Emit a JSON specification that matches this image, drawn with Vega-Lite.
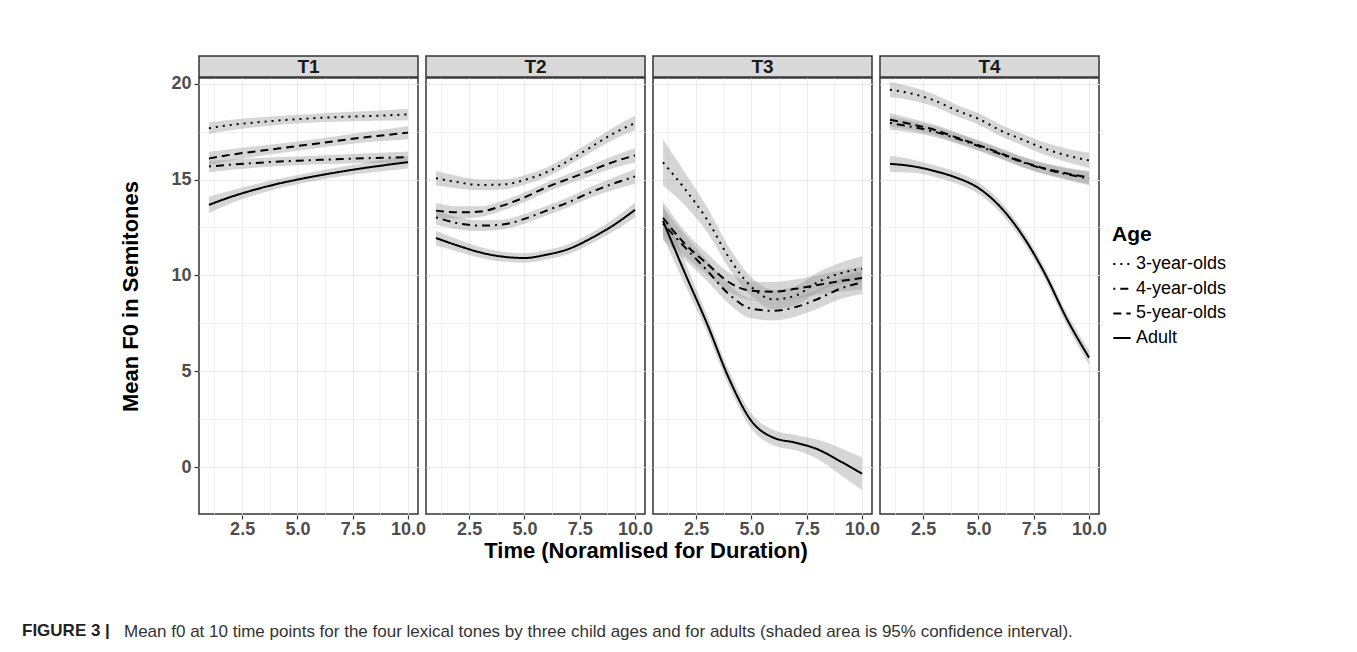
{
  "$schema": "https://vega.github.io/schema/vega-lite/v6.json",
  "background": "white",
  "padding": {"left": 22, "top": 55, "right": 5, "bottom": 5},
  "config": {
    "font": "Liberation Sans",
    "view": {"stroke": "#333333", "strokeWidth": 1.5},
    "axis": {
      "domain": false,
      "tickColor": "#333333",
      "tickSize": 4,
      "tickWidth": 1.2,
      "labelFont": "Liberation Sans",
      "labelFontSize": 18,
      "labelFontWeight": "bold",
      "labelColor": "#4D4D4D",
      "labelPadding": 3,
      "titleFont": "Liberation Sans",
      "titleFontSize": 22,
      "titleFontWeight": "bold",
      "titleColor": "#000000",
      "gridColor": "#EBEBEB"
    }
  },
  "title": {
    "text": "FIGURE 3 |",
    "orient": "bottom",
    "anchor": "start",
    "frame": "group",
    "fontSize": 17,
    "fontWeight": "bold",
    "color": "#222222",
    "dx": -177,
    "dy": -17,
    "offset": 0
  },
  "datasets": {
    "strips": [{"tone": "T1"}, {"tone": "T2"}, {"tone": "T3"}, {"tone": "T4"}],
    "curves": [
      {"tone":"T1","age":"3-year-olds","t":1,"y":17.68,"lo":17.38,"hi":17.98},
      {"tone":"T1","age":"3-year-olds","t":2,"y":17.85,"lo":17.58,"hi":18.12},
      {"tone":"T1","age":"3-year-olds","t":3,"y":17.97,"lo":17.72,"hi":18.22},
      {"tone":"T1","age":"3-year-olds","t":4,"y":18.07,"lo":17.83,"hi":18.31},
      {"tone":"T1","age":"3-year-olds","t":5,"y":18.15,"lo":17.92,"hi":18.38},
      {"tone":"T1","age":"3-year-olds","t":6,"y":18.22,"lo":17.99,"hi":18.45},
      {"tone":"T1","age":"3-year-olds","t":7,"y":18.27,"lo":18.03,"hi":18.51},
      {"tone":"T1","age":"3-year-olds","t":8,"y":18.31,"lo":18.06,"hi":18.56},
      {"tone":"T1","age":"3-year-olds","t":9,"y":18.35,"lo":18.08,"hi":18.62},
      {"tone":"T1","age":"3-year-olds","t":10,"y":18.4,"lo":18.1,"hi":18.7},
      {"tone":"T1","age":"4-year-olds","t":1,"y":15.68,"lo":15.38,"hi":15.98},
      {"tone":"T1","age":"4-year-olds","t":2,"y":15.78,"lo":15.51,"hi":16.05},
      {"tone":"T1","age":"4-year-olds","t":3,"y":15.86,"lo":15.61,"hi":16.11},
      {"tone":"T1","age":"4-year-olds","t":4,"y":15.93,"lo":15.69,"hi":16.17},
      {"tone":"T1","age":"4-year-olds","t":5,"y":15.98,"lo":15.75,"hi":16.21},
      {"tone":"T1","age":"4-year-olds","t":6,"y":16.03,"lo":15.8,"hi":16.26},
      {"tone":"T1","age":"4-year-olds","t":7,"y":16.07,"lo":15.83,"hi":16.31},
      {"tone":"T1","age":"4-year-olds","t":8,"y":16.11,"lo":15.86,"hi":16.36},
      {"tone":"T1","age":"4-year-olds","t":9,"y":16.14,"lo":15.87,"hi":16.41},
      {"tone":"T1","age":"4-year-olds","t":10,"y":16.17,"lo":15.87,"hi":16.47},
      {"tone":"T1","age":"5-year-olds","t":1,"y":16.1,"lo":15.75,"hi":16.45},
      {"tone":"T1","age":"5-year-olds","t":2,"y":16.3,"lo":16.0,"hi":16.6},
      {"tone":"T1","age":"5-year-olds","t":3,"y":16.45,"lo":16.18,"hi":16.72},
      {"tone":"T1","age":"5-year-olds","t":4,"y":16.6,"lo":16.35,"hi":16.85},
      {"tone":"T1","age":"5-year-olds","t":5,"y":16.75,"lo":16.51,"hi":16.99},
      {"tone":"T1","age":"5-year-olds","t":6,"y":16.9,"lo":16.66,"hi":17.14},
      {"tone":"T1","age":"5-year-olds","t":7,"y":17.05,"lo":16.8,"hi":17.3},
      {"tone":"T1","age":"5-year-olds","t":8,"y":17.2,"lo":16.93,"hi":17.47},
      {"tone":"T1","age":"5-year-olds","t":9,"y":17.32,"lo":17.02,"hi":17.62},
      {"tone":"T1","age":"5-year-olds","t":10,"y":17.45,"lo":17.1,"hi":17.8},
      {"tone":"T1","age":"Adult","t":1,"y":13.68,"lo":13.26,"hi":14.1},
      {"tone":"T1","age":"Adult","t":2,"y":14.1,"lo":13.77,"hi":14.43},
      {"tone":"T1","age":"Adult","t":3,"y":14.45,"lo":14.17,"hi":14.73},
      {"tone":"T1","age":"Adult","t":4,"y":14.75,"lo":14.5,"hi":15.0},
      {"tone":"T1","age":"Adult","t":5,"y":15.0,"lo":14.76,"hi":15.24},
      {"tone":"T1","age":"Adult","t":6,"y":15.22,"lo":14.98,"hi":15.46},
      {"tone":"T1","age":"Adult","t":7,"y":15.42,"lo":15.17,"hi":15.67},
      {"tone":"T1","age":"Adult","t":8,"y":15.6,"lo":15.33,"hi":15.87},
      {"tone":"T1","age":"Adult","t":9,"y":15.76,"lo":15.46,"hi":16.06},
      {"tone":"T1","age":"Adult","t":10,"y":15.91,"lo":15.58,"hi":16.24},

      {"tone":"T2","age":"3-year-olds","t":1,"y":15.07,"lo":14.69,"hi":15.45},
      {"tone":"T2","age":"3-year-olds","t":2,"y":14.86,"lo":14.54,"hi":15.18},
      {"tone":"T2","age":"3-year-olds","t":3,"y":14.72,"lo":14.44,"hi":15.0},
      {"tone":"T2","age":"3-year-olds","t":4,"y":14.74,"lo":14.48,"hi":15.0},
      {"tone":"T2","age":"3-year-olds","t":5,"y":14.98,"lo":14.73,"hi":15.23},
      {"tone":"T2","age":"3-year-olds","t":6,"y":15.38,"lo":15.13,"hi":15.63},
      {"tone":"T2","age":"3-year-olds","t":7,"y":15.99,"lo":15.73,"hi":16.25},
      {"tone":"T2","age":"3-year-olds","t":8,"y":16.69,"lo":16.41,"hi":16.97},
      {"tone":"T2","age":"3-year-olds","t":9,"y":17.39,"lo":17.07,"hi":17.71},
      {"tone":"T2","age":"3-year-olds","t":10,"y":17.95,"lo":17.57,"hi":18.33},
      {"tone":"T2","age":"4-year-olds","t":1,"y":13.03,"lo":12.65,"hi":13.41},
      {"tone":"T2","age":"4-year-olds","t":2,"y":12.72,"lo":12.4,"hi":13.04},
      {"tone":"T2","age":"4-year-olds","t":3,"y":12.6,"lo":12.32,"hi":12.88},
      {"tone":"T2","age":"4-year-olds","t":4,"y":12.65,"lo":12.39,"hi":12.91},
      {"tone":"T2","age":"4-year-olds","t":5,"y":12.95,"lo":12.7,"hi":13.2},
      {"tone":"T2","age":"4-year-olds","t":6,"y":13.38,"lo":13.13,"hi":13.63},
      {"tone":"T2","age":"4-year-olds","t":7,"y":13.82,"lo":13.56,"hi":14.08},
      {"tone":"T2","age":"4-year-olds","t":8,"y":14.34,"lo":14.06,"hi":14.62},
      {"tone":"T2","age":"4-year-olds","t":9,"y":14.78,"lo":14.46,"hi":15.1},
      {"tone":"T2","age":"4-year-olds","t":10,"y":15.16,"lo":14.78,"hi":15.54},
      {"tone":"T2","age":"5-year-olds","t":1,"y":13.38,"lo":13.0,"hi":13.76},
      {"tone":"T2","age":"5-year-olds","t":2,"y":13.29,"lo":12.97,"hi":13.61},
      {"tone":"T2","age":"5-year-olds","t":3,"y":13.33,"lo":13.05,"hi":13.61},
      {"tone":"T2","age":"5-year-olds","t":4,"y":13.64,"lo":13.38,"hi":13.9},
      {"tone":"T2","age":"5-year-olds","t":5,"y":14.07,"lo":13.82,"hi":14.32},
      {"tone":"T2","age":"5-year-olds","t":6,"y":14.6,"lo":14.35,"hi":14.85},
      {"tone":"T2","age":"5-year-olds","t":7,"y":15.04,"lo":14.78,"hi":15.3},
      {"tone":"T2","age":"5-year-olds","t":8,"y":15.47,"lo":15.19,"hi":15.75},
      {"tone":"T2","age":"5-year-olds","t":9,"y":15.91,"lo":15.59,"hi":16.23},
      {"tone":"T2","age":"5-year-olds","t":10,"y":16.26,"lo":15.88,"hi":16.64},
      {"tone":"T2","age":"Adult","t":1,"y":11.95,"lo":11.57,"hi":12.33},
      {"tone":"T2","age":"Adult","t":2,"y":11.55,"lo":11.23,"hi":11.87},
      {"tone":"T2","age":"Adult","t":3,"y":11.2,"lo":10.92,"hi":11.48},
      {"tone":"T2","age":"Adult","t":4,"y":10.98,"lo":10.72,"hi":11.24},
      {"tone":"T2","age":"Adult","t":5,"y":10.91,"lo":10.66,"hi":11.16},
      {"tone":"T2","age":"Adult","t":6,"y":11.08,"lo":10.83,"hi":11.33},
      {"tone":"T2","age":"Adult","t":7,"y":11.38,"lo":11.12,"hi":11.64},
      {"tone":"T2","age":"Adult","t":8,"y":11.93,"lo":11.65,"hi":12.21},
      {"tone":"T2","age":"Adult","t":9,"y":12.6,"lo":12.28,"hi":12.92},
      {"tone":"T2","age":"Adult","t":10,"y":13.42,"lo":13.04,"hi":13.8},

      {"tone":"T3","age":"3-year-olds","t":1,"y":15.9,"lo":14.7,"hi":17.1},
      {"tone":"T3","age":"3-year-olds","t":2,"y":14.5,"lo":13.65,"hi":15.35},
      {"tone":"T3","age":"3-year-olds","t":3,"y":12.9,"lo":12.25,"hi":13.55},
      {"tone":"T3","age":"3-year-olds","t":4,"y":10.9,"lo":10.35,"hi":11.45},
      {"tone":"T3","age":"3-year-olds","t":5,"y":9.4,"lo":8.9,"hi":9.9},
      {"tone":"T3","age":"3-year-olds","t":6,"y":8.75,"lo":8.25,"hi":9.25},
      {"tone":"T3","age":"3-year-olds","t":7,"y":8.95,"lo":8.45,"hi":9.45},
      {"tone":"T3","age":"3-year-olds","t":8,"y":9.65,"lo":9.15,"hi":10.15},
      {"tone":"T3","age":"3-year-olds","t":9,"y":10.1,"lo":9.55,"hi":10.65},
      {"tone":"T3","age":"3-year-olds","t":10,"y":10.35,"lo":9.7,"hi":11.0},
      {"tone":"T3","age":"4-year-olds","t":1,"y":12.7,"lo":11.85,"hi":13.55},
      {"tone":"T3","age":"4-year-olds","t":2,"y":11.46,"lo":10.81,"hi":12.11},
      {"tone":"T3","age":"4-year-olds","t":3,"y":10.25,"lo":9.7,"hi":10.8},
      {"tone":"T3","age":"4-year-olds","t":4,"y":9.0,"lo":8.5,"hi":9.5},
      {"tone":"T3","age":"4-year-olds","t":5,"y":8.26,"lo":7.76,"hi":8.76},
      {"tone":"T3","age":"4-year-olds","t":6,"y":8.15,"lo":7.65,"hi":8.65},
      {"tone":"T3","age":"4-year-olds","t":7,"y":8.35,"lo":7.85,"hi":8.85},
      {"tone":"T3","age":"4-year-olds","t":8,"y":8.77,"lo":8.27,"hi":9.27},
      {"tone":"T3","age":"4-year-olds","t":9,"y":9.3,"lo":8.75,"hi":9.85},
      {"tone":"T3","age":"4-year-olds","t":10,"y":9.63,"lo":9.03,"hi":10.23},
      {"tone":"T3","age":"5-year-olds","t":1,"y":13.0,"lo":12.15,"hi":13.85},
      {"tone":"T3","age":"5-year-olds","t":2,"y":11.64,"lo":10.99,"hi":12.29},
      {"tone":"T3","age":"5-year-olds","t":3,"y":10.6,"lo":10.05,"hi":11.15},
      {"tone":"T3","age":"5-year-olds","t":4,"y":9.63,"lo":9.13,"hi":10.13},
      {"tone":"T3","age":"5-year-olds","t":5,"y":9.2,"lo":8.7,"hi":9.7},
      {"tone":"T3","age":"5-year-olds","t":6,"y":9.15,"lo":8.65,"hi":9.65},
      {"tone":"T3","age":"5-year-olds","t":7,"y":9.3,"lo":8.8,"hi":9.8},
      {"tone":"T3","age":"5-year-olds","t":8,"y":9.5,"lo":9.0,"hi":10.0},
      {"tone":"T3","age":"5-year-olds","t":9,"y":9.7,"lo":9.15,"hi":10.25},
      {"tone":"T3","age":"5-year-olds","t":10,"y":9.86,"lo":9.26,"hi":10.46},
      {"tone":"T3","age":"Adult","t":1,"y":12.85,"lo":12.0,"hi":13.7},
      {"tone":"T3","age":"Adult","t":2,"y":10.1,"lo":9.5,"hi":10.7},
      {"tone":"T3","age":"Adult","t":3,"y":7.46,"lo":7.01,"hi":7.91},
      {"tone":"T3","age":"Adult","t":4,"y":4.58,"lo":4.18,"hi":4.98},
      {"tone":"T3","age":"Adult","t":5,"y":2.4,"lo":2.0,"hi":2.8},
      {"tone":"T3","age":"Adult","t":6,"y":1.53,"lo":1.13,"hi":1.93},
      {"tone":"T3","age":"Adult","t":7,"y":1.27,"lo":0.87,"hi":1.67},
      {"tone":"T3","age":"Adult","t":8,"y":0.92,"lo":0.42,"hi":1.42},
      {"tone":"T3","age":"Adult","t":9,"y":0.31,"lo":-0.39,"hi":1.01},
      {"tone":"T3","age":"Adult","t":10,"y":-0.35,"lo":-1.2,"hi":0.5},

      {"tone":"T4","age":"3-year-olds","t":1,"y":19.69,"lo":19.29,"hi":20.09},
      {"tone":"T4","age":"3-year-olds","t":2,"y":19.48,"lo":19.13,"hi":19.83},
      {"tone":"T4","age":"3-year-olds","t":3,"y":19.13,"lo":18.81,"hi":19.45},
      {"tone":"T4","age":"3-year-olds","t":4,"y":18.61,"lo":18.31,"hi":18.91},
      {"tone":"T4","age":"3-year-olds","t":5,"y":18.17,"lo":17.87,"hi":18.47},
      {"tone":"T4","age":"3-year-olds","t":6,"y":17.56,"lo":17.26,"hi":17.86},
      {"tone":"T4","age":"3-year-olds","t":7,"y":17.08,"lo":16.78,"hi":17.38},
      {"tone":"T4","age":"3-year-olds","t":8,"y":16.61,"lo":16.29,"hi":16.93},
      {"tone":"T4","age":"3-year-olds","t":9,"y":16.26,"lo":15.91,"hi":16.61},
      {"tone":"T4","age":"3-year-olds","t":10,"y":16.0,"lo":15.6,"hi":16.4},
      {"tone":"T4","age":"4-year-olds","t":1,"y":17.95,"lo":17.6,"hi":18.3},
      {"tone":"T4","age":"4-year-olds","t":2,"y":17.75,"lo":17.45,"hi":18.05},
      {"tone":"T4","age":"4-year-olds","t":3,"y":17.5,"lo":17.22,"hi":17.78},
      {"tone":"T4","age":"4-year-olds","t":4,"y":17.15,"lo":16.88,"hi":17.42},
      {"tone":"T4","age":"4-year-olds","t":5,"y":16.75,"lo":16.49,"hi":17.01},
      {"tone":"T4","age":"4-year-olds","t":6,"y":16.33,"lo":16.07,"hi":16.59},
      {"tone":"T4","age":"4-year-olds","t":7,"y":15.9,"lo":15.63,"hi":16.17},
      {"tone":"T4","age":"4-year-olds","t":8,"y":15.55,"lo":15.27,"hi":15.83},
      {"tone":"T4","age":"4-year-olds","t":9,"y":15.28,"lo":14.98,"hi":15.58},
      {"tone":"T4","age":"4-year-olds","t":10,"y":15.05,"lo":14.7,"hi":15.4},
      {"tone":"T4","age":"5-year-olds","t":1,"y":18.12,"lo":17.77,"hi":18.47},
      {"tone":"T4","age":"5-year-olds","t":2,"y":17.88,"lo":17.58,"hi":18.18},
      {"tone":"T4","age":"5-year-olds","t":3,"y":17.6,"lo":17.32,"hi":17.88},
      {"tone":"T4","age":"5-year-olds","t":4,"y":17.2,"lo":16.93,"hi":17.47},
      {"tone":"T4","age":"5-year-olds","t":5,"y":16.8,"lo":16.54,"hi":17.06},
      {"tone":"T4","age":"5-year-olds","t":6,"y":16.37,"lo":16.11,"hi":16.63},
      {"tone":"T4","age":"5-year-olds","t":7,"y":15.93,"lo":15.66,"hi":16.2},
      {"tone":"T4","age":"5-year-olds","t":8,"y":15.58,"lo":15.3,"hi":15.86},
      {"tone":"T4","age":"5-year-olds","t":9,"y":15.32,"lo":15.02,"hi":15.62},
      {"tone":"T4","age":"5-year-olds","t":10,"y":15.1,"lo":14.75,"hi":15.45},
      {"tone":"T4","age":"Adult","t":1,"y":15.82,"lo":15.4,"hi":16.24},
      {"tone":"T4","age":"Adult","t":2,"y":15.7,"lo":15.35,"hi":16.05},
      {"tone":"T4","age":"Adult","t":3,"y":15.45,"lo":15.15,"hi":15.75},
      {"tone":"T4","age":"Adult","t":4,"y":15.1,"lo":14.8,"hi":15.4},
      {"tone":"T4","age":"Adult","t":5,"y":14.56,"lo":14.26,"hi":14.86},
      {"tone":"T4","age":"Adult","t":6,"y":13.56,"lo":13.26,"hi":13.86},
      {"tone":"T4","age":"Adult","t":7,"y":12.07,"lo":11.77,"hi":12.37},
      {"tone":"T4","age":"Adult","t":8,"y":10.1,"lo":9.8,"hi":10.4},
      {"tone":"T4","age":"Adult","t":9,"y":7.72,"lo":7.4,"hi":8.04},
      {"tone":"T4","age":"Adult","t":10,"y":5.71,"lo":5.33,"hi":6.09}
    ]
  },
  "vconcat": [
    {
      "title": {
        "text": "Mean f0 at 10 time points for the four lexical tones by three child ages and for adults (shaded area is 95% confidence interval).",
        "orient": "bottom",
        "anchor": "start",
        "frame": "group",
        "fontSize": 17,
        "fontWeight": "normal",
        "color": "#333333",
        "dx": -75,
        "offset": 62
      },
      "spacing": -8,
      "vconcat": [
        {
          "data": {"name": "strips"},
          "facet": {"column": {"field": "tone", "type": "nominal", "title": null, "header": {"labels": false, "title": null}}},
          "spacing": 6,
          "spec": {
            "width": 219,
            "height": 21,
            "view": {"fill": "#D9D9D9", "stroke": "#333333", "strokeWidth": 1.5},
            "mark": {"type": "text", "font": "Liberation Sans", "fontSize": 19, "fontWeight": "bold", "color": "#1A1A1A", "baseline": "middle", "align": "center"},
            "encoding": {
              "text": {"field": "tone", "type": "nominal"},
              "y": {"datum": "strip", "type": "nominal", "title": "M",
                "scale": {"paddingInner": 0, "paddingOuter": 0},
                "axis": {"labelExpr": "'20'", "labelOpacity": 0, "tickOpacity": 0, "grid": false, "domain": false, "titleOpacity": 0, "titlePadding": 28}}
            }
          }
        },
        {
          "data": {"name": "curves"},
          "title": {
            "text": "Time (Noramlised for Duration)",
            "orient": "bottom",
            "anchor": "middle",
            "frame": "group",
            "font": "Liberation Sans",
            "fontSize": 22,
            "fontWeight": "bold",
            "color": "#000000",
            "dx": 447,
            "offset": 3
          },
          "facet": {"column": {"field": "tone", "type": "nominal", "title": null, "header": {"labels": false, "title": null}}},
          "spacing": 6,
          "spec": {
            "width": 219,
            "height": 436,
            "resolve": {"axis": {"x": "independent"}},
            "layer": [
              {
                "mark": {"type": "area", "interpolate": "monotone", "fill": "#999999", "opacity": 0.4},
                "encoding": {
                  "x": {"field": "t", "type": "quantitative", "scale": {"domain": [0.55, 10.45], "nice": false, "zero": false}, "title": null,
                    "axis": {"orient": "bottom", "values": [1.25, 3.75, 6.25, 8.75], "labels": false, "ticks": false, "domain": false, "grid": true, "gridWidth": 0.7}},
                  "y": {"field": "lo", "type": "quantitative", "scale": {"domain": [-2.45, 20.3], "nice": false, "zero": false}, "title": "Mean F0 in Semitones",
                    "axis": {"values": [0, 2.5, 5, 7.5, 10, 12.5, 15, 17.5, 20],
                      "labelExpr": "datum.value % 5 === 0 ? format(datum.value, 'd') : ''",
                      "tickOpacity": {"condition": {"test": "datum.value % 5 !== 0", "value": 0}, "value": 1},
                      "gridWidth": {"condition": {"test": "datum.value % 5 !== 0", "value": 0.7}, "value": 1.1},
                      "titlePadding": 28}},
                  "y2": {"field": "hi"},
                  "detail": {"field": "age", "type": "nominal"}
                }
              },
              {
                "mark": {"type": "line", "interpolate": "monotone", "color": "black", "strokeWidth": 2},
                "encoding": {
                  "x": {"field": "t", "type": "quantitative", "scale": {"domain": [0.55, 10.45], "nice": false, "zero": false}, "title": null,
                    "axis": {"orient": "bottom", "values": [2.5, 5, 7.5, 10], "format": ".1f", "grid": true, "gridWidth": 1.1, "labelPadding": 1}},
                  "y": {"field": "y", "type": "quantitative", "title": "Mean F0 in Semitones"},
                  "strokeDash": {"field": "age", "type": "nominal", "title": "Age",
                    "scale": {"domain": ["3-year-olds", "4-year-olds", "5-year-olds", "Adult"], "range": [[2, 5], [2, 5, 8, 5], [8, 5], [1, 0]]},
                    "legend": {"orient": "none", "legendX": 913, "legendY": 168, "symbolType": "stroke", "symbolSize": 300, "symbolStrokeWidth": 2,
                      "titleFontSize": 21, "titleFontWeight": "bold", "titleColor": "#000000", "titlePadding": 9,
                      "labelFontSize": 18, "labelColor": "#000000", "labelOffset": 4, "rowPadding": 5.7}}
                }
              }
            ]
          }
        }
      ]
    }
  ]
}
